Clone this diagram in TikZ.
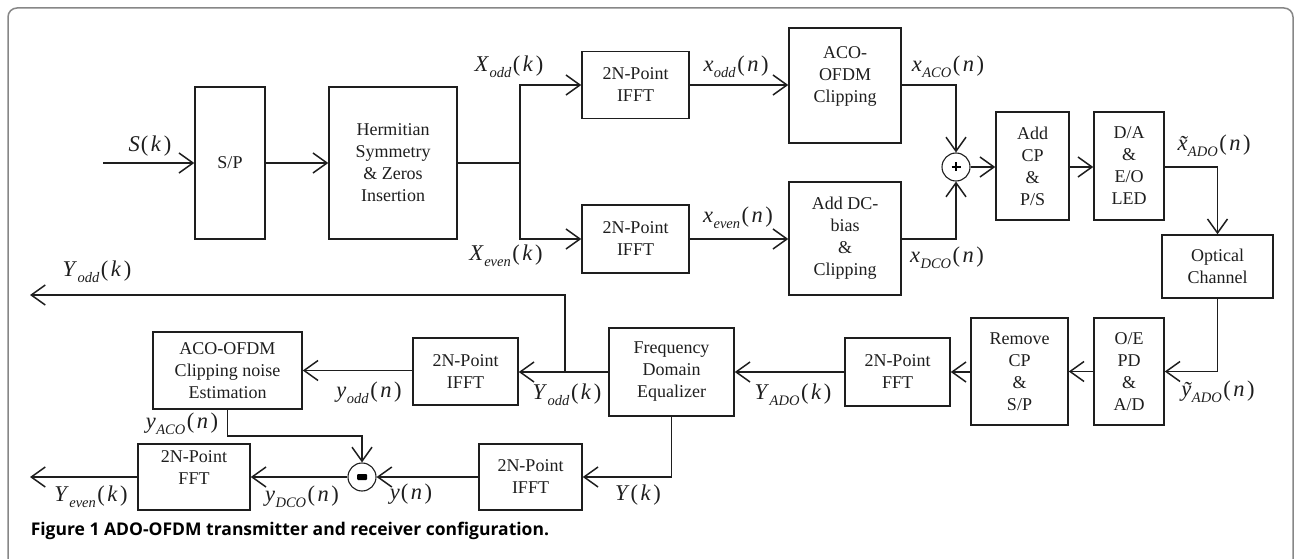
\documentclass[tikz,border=0pt]{standalone}
\usepackage{fontspec}
\setmainfont{Liberation Serif}
\newfontfamily\capfont{Open Sans}
\usetikzlibrary{arrows.meta}
\definecolor{ink}{RGB}{30,30,30}
\definecolor{framecol}{RGB}{135,135,135}
\newcommand{\subx}[1]{\kern0.5pt\raisebox{-6pt}{\fontsize{14.5}{14.5}\selectfont\textit{#1}}\kern1.5pt}
\newcommand{\argx}[1]{(\kern2.5pt\textit{#1}\kern2.5pt)}
\newcommand{\lbl}[3]{\textit{#1}\subx{#2}\argx{#3}}
\newcommand{\tildex}[1]{\ooalign{\textit{#1}\cr\hidewidth\kern2pt\raisebox{-1pt}{\textit{\symbol{"02DC}}}\hidewidth\cr}}
\newcommand{\lblt}[3]{\tildex{#1}\subx{#2}\argx{#3}}
\newcommand{\lbls}[2]{\textit{#1}\kern1pt\argx{#2}}
\begin{document}
\begin{tikzpicture}[x=1pt,y=-1pt,line width=1.5pt,draw=ink,text=ink,
  box/.style={draw=ink,line width=1.5pt,inner sep=0pt,align=center,font=\fontsize{18}{22}\selectfont},
  arr/.style={-{Straight Barb[length=14pt,width=20pt]}},
  ln/.style={draw=ink,line width=1.5pt},
  lab/.style={inner sep=0pt,font=\fontsize{22.5}{22.5}\selectfont},
  junc/.style={draw=ink,circle,line width=1.1pt,minimum size=28pt,inner sep=0pt}]
\useasboundingbox (0,0) rectangle (1296,559);
\draw[framecol,line width=1.5pt,rounded corners=9pt] (8,600) -- (8,8) -- (1293,8) -- (1293,600);

% transmitter
\node[box,minimum width=70,minimum height=152] (sp) at (230,163) {S/P};
\node[box,minimum width=128,minimum height=152] (herm) at (393,163) {Hermitian\\Symmetry\\\&~Zeros\\Insertion};
\node[box,minimum width=107,minimum height=67] (ifftA) at (635.5,85) {2N-Point\\IFFT};
\node[box,minimum width=107,minimum height=68] (ifftB) at (635.5,239) {2N-Point\\IFFT};
\node[box,minimum width=112,minimum height=115] (aco) at (845,85.5) {ACO-\\OFDM\\Clipping\\\mbox{}};
\node[box,minimum width=112,minimum height=113] (dc) at (845,238.5) {Add DC-\\bias\\\&\\Clipping};
\node[junc] (sum) at (956,167) {};
\node[box,minimum width=73,minimum height=108] (addcp) at (1032.5,166) {Add\\CP\\\&\\P/S};
\node[box,minimum width=70,minimum height=108] (da) at (1129,166) {D/A\\\&\\E/O\\LED};
\node[box,minimum width=111,minimum height=63] (opt) at (1217.5,266.5) {Optical\\Channel};

% receiver
\node[box,minimum width=70,minimum height=107] (oe) at (1129,371.5) {O/E\\PD\\\&\\A/D};
\node[box,minimum width=97,minimum height=107] (rcp) at (1019.5,371.5) {Remove\\CP\\\&\\S/P};
\node[box,minimum width=105,minimum height=68] (fftA) at (897.5,372) {2N-Point\\FFT};
\node[box,minimum width=125,minimum height=88] (fde) at (671.5,372) {Frequency\\Domain\\Equalizer};
\node[box,minimum width=105,minimum height=67] (ifftC) at (465.5,371.5) {2N-Point\\IFFT};
\node[box,minimum width=149,minimum height=77] (est) at (227.5,370.5) {ACO-OFDM\\Clipping noise\\Estimation};
\node[box,minimum width=103,minimum height=66] (ifftD) at (530.5,477) {2N-Point\\IFFT};
\node[junc] (minus) at (362,477) {};
\node[box,minimum width=112,minimum height=66] (fftB) at (194,477) {2N-Point\\FFT\\[-4pt]\mbox{}};

% signs in the junctions
\draw[black,line width=2.8pt] (sum.center) ++(-4.5,0) -- ++(9,0);
\draw[black,line width=2.8pt] (sum.center) ++(0,-4.5) -- ++(0,9);
\fill[black,rounded corners=1pt] (minus.center) ++(-5,-3) rectangle ++(10,6);

\coordinate (sin) at (103,163);
\coordinate (br) at (520,163);
\coordinate (yoddout) at (30,295);
\coordinate (yevenout) at (30,477);
\coordinate (tap) at (565,372);

% connectors transmitter
\draw[ln,arr] (sin) -- (sp.west|-sin);
\draw[ln,arr] (sp.east|-sin) -- (herm.west|-sin);
\draw[ln] (herm.east|-br) -- (br);
\draw[ln,arr] (br) -- (br|-ifftA.west) -- (ifftA.west);
\draw[ln,arr] (br) -- (br|-ifftB.west) -- (ifftB.west);
\draw[ln,arr] (ifftA.east) -- (aco.west|-ifftA.east);
\draw[ln,arr] (ifftB.east) -- (dc.west|-ifftB.east);
\draw[ln,arr] (aco.east|-ifftA.east) -- (sum|-ifftA.east) -- (sum.north);
\draw[ln,arr] (dc.east|-ifftB.east) -- (sum|-ifftB.east) -- (sum.south);
\draw[ln,arr] (sum.east) -- (addcp.west|-sum.east);
\draw[ln,arr] (addcp.east|-sum.east) -- (da.west|-sum.east);
\draw[ln,arr] (da.east|-sum.east) -- (opt.north|-sum.east) -- (opt.north);

% connectors receiver
\draw[ln,arr] (opt.south) -- (opt.south|-oe.east) -- (oe.east);
\draw[ln,arr] (oe.west) -- (rcp.east);
\draw[ln,arr] (rcp.west|-fftA.east) -- (fftA.east);
\draw[ln,arr] (fftA.west) -- (fde.east|-fftA.west);
\draw[ln,arr] (fde.west|-fftA.west) -- (ifftC.east|-fftA.west);
\draw[ln,arr] (tap) -- (tap|-yoddout) -- (yoddout);
\draw[ln,arr] (ifftC.west|-est.east) -- (est.east);
\draw[ln,arr] (est.south) -- (est.south|-0,436) -- (minus|-0,436) -- (minus.north);
\draw[ln,arr] (fde.south) -- (fde.south|-ifftD.east) -- (ifftD.east);
\draw[ln,arr] (ifftD.west) -- (minus.east);
\draw[ln,arr] (minus.west) -- (fftB.east|-minus.west);
\draw[ln,arr] (fftB.west|-minus.west) -- (yevenout);

% labels
\node[lab] (lS) at (150,146) {\lbls{S}{k}};
\node[lab] (lXo) at (509,67) {\lbl{X}{odd}{k}};
\node[lab] (lXe) at (506,256) {\lbl{X}{even}{k}};
\node[lab] (lxo) at (736,67) {\lbl{x}{odd}{n}};
\node[lab] (lxe) at (738,218) {\lbl{x}{even}{n}};
\node[lab] (lxa) at (948,67) {\lbl{x}{ACO}{n}};
\node[lab] (lxd) at (947,258) {\lbl{x}{DCO}{n}};
\node[lab] (lxt) at (1214,146) {\lblt{x}{ADO}{n}};
\node[lab] (lyt) at (1218,392) {\lblt{y}{ADO}{n}};
\node[lab] (lYa) at (793,395) {\lbl{Y}{ADO}{k}};
\node[lab] (lYo) at (567,395) {\lbl{Y}{odd}{k}};
\node[lab] (lYo2) at (97,272) {\lbl{Y}{odd}{k}};
\node[lab] (lyo) at (369,393) {\lbl{y}{odd}{n}};
\node[lab] (lya) at (182,424) {\lbl{y}{ACO}{n}};
\node[lab] (lyd) at (302,497) {\lbl{y}{DCO}{n}};
\node[lab] (lyn) at (411,494) {\lbls{y}{n}};
\node[lab] (lYk) at (638,495) {\lbls{Y}{k}};
\node[lab] (lYe) at (91,497) {\lbl{Y}{even}{k}};

\node[anchor=base west,inner sep=0pt,text=black,font=\capfont\bfseries\fontsize{17.5}{17.5}\selectfont] (cap) at (30,535) {Figure 1 ADO-OFDM transmitter and receiver configuration.};
\end{tikzpicture}
\end{document}
